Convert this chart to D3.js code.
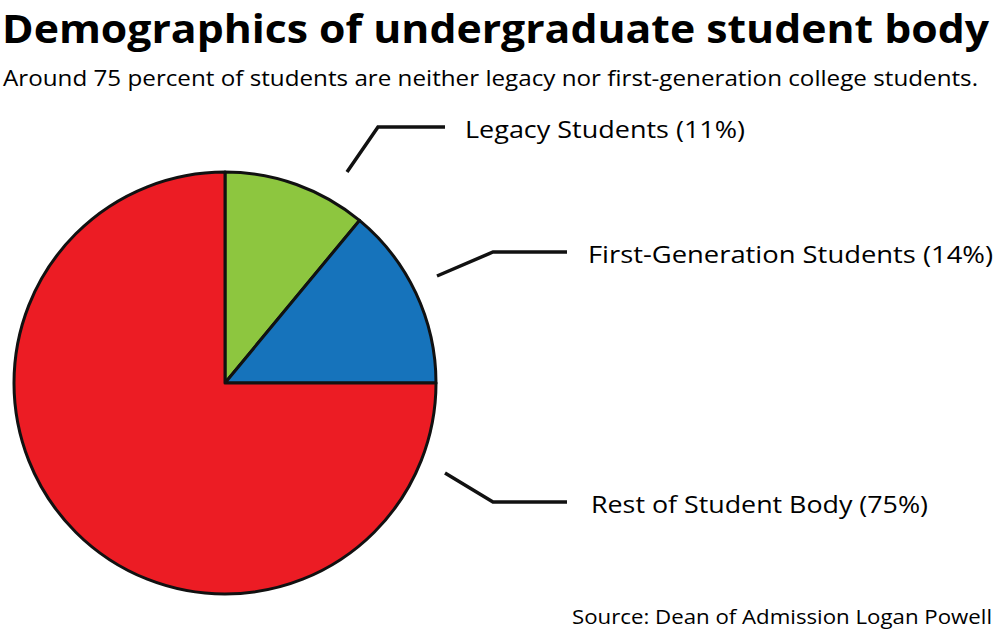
<!DOCTYPE html>
<html><head><meta charset="utf-8">
<script src="https://cdn.jsdelivr.net/npm/d3@7"></script>
<style>body{margin:0;background:#fff}</style>
</head><body>
<svg id="chart" width="1000" height="635"></svg>
<script>
// Data
const categories = ['Legacy Students', 'First-Generation Students', 'Rest of Student Body'];
const values = [11, 14, 75];
const colors = ['#8dc63f', '#1673bb', '#ec1c24'];
// leader line points per label: [start, elbow, end], label x
const leaders = [
  [[347, 172], [378, 127], [445, 127]],
  [[437, 276], [493, 252], [567, 252]],
  [[445, 473], [493, 502], [567, 502]]
];
const labelX = [465, 588, 591];
const labelW = [280, 405, 337];

const svg = d3.select('#chart');
const font = "'Open Sans', 'Liberation Sans', sans-serif";

svg.append('text').attr('x', 2).attr('y', 43)
  .attr('font-family', font).attr('font-weight', 700).attr('font-size', 40)
  .attr('textLength', 987).attr('lengthAdjust', 'spacingAndGlyphs')
  .text('Demographics of undergraduate student body');
svg.append('text').attr('x', 3).attr('y', 86)
  .attr('font-family', font).attr('font-size', 22)
  .attr('textLength', 975).attr('lengthAdjust', 'spacingAndGlyphs')
  .text('Around 75 percent of students are neither legacy nor first-generation college students.');

const cx = 225, cy = 383, r = 211;
const pie = d3.pie().sort(null).value(d => d);
const arc = d3.arc().innerRadius(0).outerRadius(r);
const g = svg.append('g').attr('transform', `translate(${cx},${cy})`);
g.selectAll('path').data(pie(values)).join('path')
  .attr('d', arc).attr('fill', (d, i) => colors[i])
  .attr('stroke', '#111').attr('stroke-width', 3).attr('stroke-linejoin', 'round');

const line = d3.line();
leaders.forEach((pts, i) => {
  svg.append('path').attr('d', line(pts)).attr('fill', 'none')
    .attr('stroke', '#111').attr('stroke-width', 3.5);
  svg.append('text').attr('x', labelX[i]).attr('y', pts[2][1] + 3).attr('dy', '0.35em')
    .attr('font-family', font).attr('font-size', 24)
    .attr('textLength', labelW[i]).attr('lengthAdjust', 'spacingAndGlyphs')
    .text(`${categories[i]} (${values[i]}%)`);
});

svg.append('text').attr('x', 572).attr('y', 624)
  .attr('font-family', font).attr('font-size', 20)
  .attr('textLength', 420).attr('lengthAdjust', 'spacingAndGlyphs')
  .text('Source: Dean of Admission Logan Powell');
</script>
</body></html>
